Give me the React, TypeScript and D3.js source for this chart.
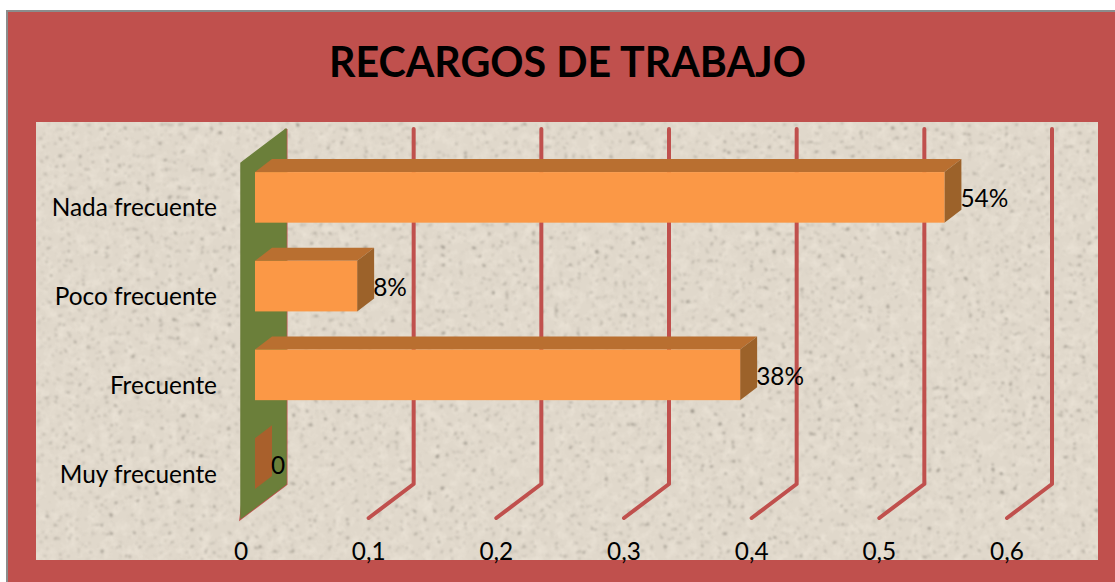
import React from 'react';
import * as d3 from 'd3';

const titleText = 'RECARGOS DE TRABAJO';
const categories = ['Nada frecuente', 'Poco frecuente', 'Frecuente', 'Muy frecuente'];
const values = [0.54, 0.08, 0.38, 0];
const valueLabels = ['54%', '8%', '38%', '0'];
const ticks = [0, 0.1, 0.2, 0.3, 0.4, 0.5, 0.6];
const tickLabels = ['0', '0,1', '0,2', '0,3', '0,4', '0,5', '0,6'];

const W = 1115;
const H = 582;
const font = 'Lato, "Open Sans", sans-serif';
const labelSize = 24.4;

const red = '#c0504d';
const panel = { x: 36, y: 122, w: 1062, h: 438 };

// 3d box offsets
const wallDx = 45;
const wallDy = -34;
const barDx = 14;
const barDy = -10;
const sideDx = 17;
const sideDy = -13;

const x = d3.scaleLinear().domain([0, 0.6]).range([241, 1007]);
const y = d3.scaleBand().domain(categories).range([163, 518]).paddingInner(0.43).paddingOuter(0.215);
const floorY = y.range()[1];
const topY = y.range()[0];

const poly = (pts: number[][]) => d3.line()(pts as [number, number][]) + 'Z';

const App = () => {
  const x0 = x(0);
  return (
    <svg
      width={W}
      height={H}
      viewBox={`0 0 ${W} ${H}`}
      style={{ position: 'absolute', left: 0, top: 0, background: '#fff' }}
    >
      <defs>
        <filter id="stone" x="0" y="0" width="100%" height="100%" colorInterpolationFilters="sRGB">
          <feTurbulence type="fractalNoise" baseFrequency="0.09" numOctaves="3" seed="4" result="soft" />
          <feColorMatrix
            in="soft"
            type="matrix"
            values="0 0 0 0 0.93  0 0 0 0 0.9  0 0 0 0 0.85  1.6 0 0 0 -0.7"
            result="blotch"
          />
          <feTurbulence type="fractalNoise" baseFrequency="0.22" numOctaves="2" seed="11" result="fine" />
          <feColorMatrix
            in="fine"
            type="matrix"
            values="0 0 0 0 0.42  0 0 0 0 0.4  0 0 0 0 0.36  3 0 0 0 -1.95"
            result="speck"
          />
          <feGaussianBlur in="speck" stdDeviation="0.9" result="speckSoft" />
          <feMerge>
            <feMergeNode in="SourceGraphic" />
            <feMergeNode in="blotch" />
            <feMergeNode in="speckSoft" />
          </feMerge>
        </filter>
      </defs>

      <rect x={7} y={11} width={W - 6} height={H - 10} fill={red} stroke="#8c8c8c" strokeWidth={2} />
      <rect x={panel.x} y={panel.y} width={panel.w} height={panel.h} fill="#e0d8cb" filter="url(#stone)" />

      <text x={567.5} y={77} textAnchor="middle" fontFamily={font} fontWeight={700} fontSize={41.2} fill="#000">
        {titleText}
      </text>

      {/* grid lines, wall then floor */}
      {ticks.map((t, i) =>
        i === 0 ? null : (
          <path
            key={t}
            d={d3.line()([
              [x(t) + wallDx, topY + wallDy],
              [x(t) + wallDx, floorY + wallDy],
              [x(t), floorY],
            ] as [number, number][]) as string}
            fill="none"
            stroke={red}
            strokeWidth={4}
            strokeLinecap="round"
            strokeLinejoin="round"
          />
        )
      )}

      {/* side wall */}
      <path
        d={poly([
          [x0 + wallDx, topY + wallDy],
          [x0 + wallDx, floorY + wallDy],
          [x0, floorY],
        ])}
        fill="none"
        stroke={red}
        strokeWidth={3}
      />
      <path
        d={poly([
          [x0, topY],
          [x0 + wallDx, topY + wallDy],
          [x0 + wallDx, floorY + wallDy],
          [x0, floorY],
        ])}
        fill="#6b7f3a"
        stroke="#6b7f3a"
        strokeWidth={1.5}
        strokeLinejoin="round"
      />

      {/* bars */}
      {categories.map((c, i) => {
        const left = x0 + barDx;
        const right = x(values[i]) + barDx;
        const top = (y(c) as number) + barDy;
        const bot = top + y.bandwidth();
        return (
          <g key={c}>
            {values[i] > 0 && (
              <path
                d={poly([
                  [left, top],
                  [left + sideDx, top + sideDy],
                  [right + sideDx, top + sideDy],
                  [right, top],
                ])}
                fill="#b96f30"
              />
            )}
            <path
              d={poly([
                [right, top],
                [right + sideDx, top + sideDy],
                [right + sideDx, bot + sideDy],
                [right, bot],
              ])}
              fill={values[i] > 0 ? '#9c622a' : '#a9602c'}
            />
            {values[i] > 0 && <rect x={left} y={top} width={right - left} height={bot - top} fill="#fb9846" />}
          </g>
        );
      })}

      {/* value labels */}
      {categories.map((c, i) => (
        <text
          key={c}
          x={x(values[i]) + barDx + sideDx - 1}
          y={(y(c) as number) + barDy + y.bandwidth() / 2 + 10}
          fontFamily={font}
          fontSize={labelSize}
          fill="#000"
        >
          {valueLabels[i]}
        </text>
      ))}

      {/* category labels */}
      {categories.map((c) => (
        <text
          key={c}
          x={217}
          y={(y(c) as number) + y.bandwidth() / 2 + 9}
          textAnchor="end"
          fontFamily={font}
          fontSize={labelSize}
          fill="#000"
        >
          {c}
        </text>
      ))}

      {/* x axis labels */}
      {ticks.map((t, i) => (
        <text key={t} x={x(t)} y={559.5} textAnchor="middle" fontFamily={font} fontSize={labelSize} fill="#000">
          {tickLabels[i]}
        </text>
      ))}
    </svg>
  );
};

export default App;
